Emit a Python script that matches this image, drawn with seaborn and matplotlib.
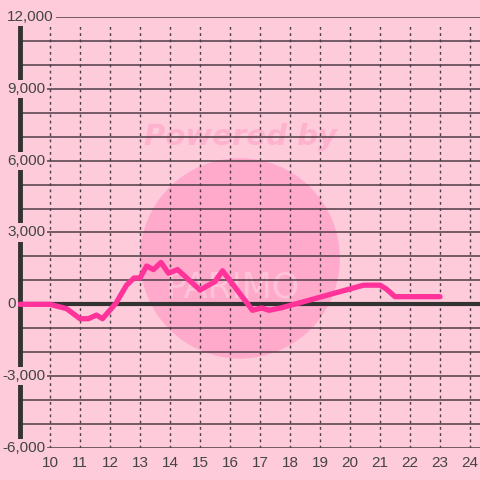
import seaborn as sns
import pandas as pd
import matplotlib.pyplot as plt
import matplotlib.transforms as mtrans
from matplotlib.patches import Ellipse

# data
hours = [9.0, 10.0, 10.55, 11.0, 11.28, 11.55, 11.75, 12.2, 12.55, 12.8, 13.0, 13.22,
         13.45, 13.7, 13.95, 14.25, 15.0, 15.5, 15.75, 16.75, 17.05, 17.3, 17.7,
         20.45, 21.0, 21.2, 21.5, 23.0]
values = [0, 0, -180, -600, -600, -450, -600, 50, 800, 1100, 1100, 1600,
          1450, 1750, 1300, 1450, 600, 950, 1400, -250, -150, -250, -150,
          800, 800, 650, 320, 320]
x_ticks = list(range(10, 25))
y_ticks = [-6000, -3000, 0, 3000, 6000, 9000, 12000]
y_labels = ['-6,000', '-3,000', '0', '3,000', '6,000', '9,000', '12,000']

bg = '#fecbdb'
grid_col = '#4e3c46'
line_col = '#ff3399'

df = pd.DataFrame({'hour': hours, 'value': values})

sns.set_style('white')
plt.rcParams['font.family'] = ['Liberation Sans', 'DejaVu Sans']

fig = plt.figure(figsize=(4.8, 4.8), dpi=100, facecolor=bg)
ax = fig.add_axes([0, 32 / 480, 1, 431 / 480])
ax.set_facecolor(bg)
ax.set_xlim(10 - 50 / 30, 24 + 10 / 30)
ax.set_ylim(-6000, 12000)
for s in ax.spines.values():
    s.set_visible(False)

# watermark
ax.add_patch(Ellipse((16.33, 1920), 200 / 30, 200 * 1000 / 23.9, facecolor='#ffaacb',
                     edgecolor='none', zorder=0.2))
ax.text(16.35, 7000, 'Powered by', ha='center', va='center', fontsize=21,
        fontweight='bold', style='italic', color='#ffb2cd', zorder=0.3,
        family=['DejaVu Sans'])
ax.text(16.1, 700, 'PARIMO', ha='center', va='center', fontsize=25,
        color='#ffc3d8', zorder=0.3, family=['DejaVu Sans'])

# grid
x0 = 20 / 480
for yv in range(-6000, 12001, 1000):
    ax.axhline(yv, xmin=x0, color=grid_col, lw=1.1, zorder=1)
ax.axhline(0, xmin=x0, color='#333333', lw=3, zorder=1.5)
for xv in x_ticks:
    ax.plot([xv, xv], [-6000, 11700], color=grid_col, lw=1, ls=(0, (2, 2.5)), zorder=1)
ax.axvline(9.0, color='#333333', lw=3.5, zorder=1.5)

sns.lineplot(data=df, x='hour', y='value', color=line_col, lw=3.8, ax=ax, zorder=3)
ax.set_xlabel('')
ax.set_ylabel('')

ax.set_xticks(x_ticks)
ax.set_xticklabels([str(t) for t in x_ticks])
ax.set_yticks([])
ax.tick_params(axis='x', length=0, labelsize=11, labelcolor='#444444', pad=6)

# y labels sit inside the plot, on a box that hides the lines under them
blend = mtrans.blended_transform_factory(ax.transAxes, ax.transData)
for yv, txt in zip(y_ticks, y_labels):
    xpos = (2 if txt.startswith('-') else 7) / 480
    ax.text(xpos, yv, txt, transform=blend, ha='left', va='center', fontsize=11,
            color='#444444', zorder=5,
            bbox=dict(facecolor=bg, edgecolor='none', pad=1.5))

fig.savefig('out.png', dpi=100, facecolor=bg)
